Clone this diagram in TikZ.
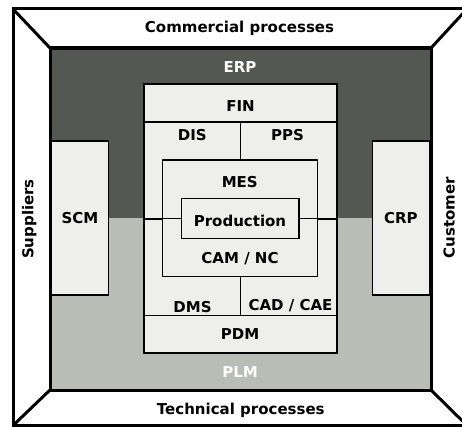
\documentclass[tikz,border=0pt]{standalone}
\usepackage{fontspec}
\setmainfont{DejaVu Sans}
\usetikzlibrary{positioning}
\definecolor{erpgrey}{HTML}{555753}
\definecolor{plmgrey}{HTML}{BABDB6}
\definecolor{boxfill}{HTML}{EEEEEC}
\tikzset{%
    outerframe/.style={line width=3pt, color=black},
    module/.style={draw=black, fill=boxfill, line width=1.4pt, rectangle, inner sep=0pt},
    divider/.style={line width=1.2pt, color=black},
    txt/.style={anchor=base, inner sep=0pt, text=black},
    %white txt/.style={txt, text=white}
}

\begin{document}
\begin{tikzpicture}[x=1pt, y=-1pt, line join=miter, font=\fontsize{15}{18}\selectfont\bfseries]

	% canvas
	\useasboundingbox (0,0) rectangle (462,428);
	\fill[white] (0,0) rectangle (462,428);

	% corners
	\coordinate (otl) at (13,9);
	\coordinate (otr) at (467,9);
	\coordinate (obl) at (13,425.5);
	\coordinate (obr) at (467,425.5);
	\coordinate (itl) at (50,48);
	\coordinate (itr) at (431,48);
	\coordinate (ibl) at (50,390);
	\coordinate (ibr) at (431,390);

	% ERP and PLM areas
	\fill[erpgrey] (itl) rectangle (431,218);
	\fill[plmgrey] (50,218) rectangle (ibr);

	% outer frame
	\draw[outerframe] (otl) rectangle (obr);
	\draw[outerframe] (otl) -- (itl);
	\draw[outerframe] (otr) -- (itr);
	\draw[outerframe] (obl) -- (ibl);
	\draw[outerframe] (obr) -- (ibr);
	\draw[outerframe] (itl) rectangle (ibr);

	% side modules
	\node[module, minimum width=57, minimum height=154] (scm) at (80,218) {SCM};
	\node[module, minimum width=57, minimum height=154] (crp) at (400.8,218) {CRP};

	% core modules
	\node[module, minimum width=193, minimum height=269] (core) at (240.5,218.5) {};
	\node[module, minimum width=155, minimum height=116.7] (mes) at (240.2,218.3) {};
	\node[module, minimum width=117.3, minimum height=40.4] (prod) at (240.3,218.5) {};

	% dividers
	\coordinate (finwest) at ([yshift=-38.7pt]core.north west);
	\coordinate (fineast) at ([yshift=-38.7pt]core.north east);
	\coordinate (pdmwest) at ([yshift=38pt]core.south west);
	\coordinate (pdmeast) at ([yshift=38pt]core.south east);
	\draw[divider] (finwest) -- (fineast);
	\draw[divider] (pdmwest) -- (pdmeast);
	\draw[divider] (mes.north) -- (mes.north |- finwest);
	\draw[divider] (mes.south) -- (mes.south |- pdmwest);

	% links to production
	\draw[line width=2pt] (core.west |- prod) -- (mes.west |- prod);
	\draw[divider] (mes.west |- prod) -- (prod.west);
	\draw[line width=2pt] (core.east |- prod) -- (mes.east |- prod);
	\draw[divider] (mes.east |- prod) -- (prod.east);

	% labels
	\node[txt] (commercial) at (239.5,33) {Commercial processes};
	\node[txt, text=white] (erp) at (240,72.7) {ERP};
	\node[txt] (fin) at (240.5,111) {FIN};
	\node[txt] (dis) at (192.3,140) {DIS};
	\node[txt] (pps) at (287.5,140) {PPS};
	\node[txt] (mestxt) at (239.8,187.3) {MES};
	\node[txt] (prodtxt) at (240,226) {Production};
	\node[txt] (camnc) at (240,263.3) {CAM / NC};
	\node[txt] (dms) at (192.5,312.5) {DMS};
	\node[txt] (cadcae) at (290.5,310) {CAD / CAE};
	\node[txt] (pdm) at (240,339.3) {PDM};
	\node[txt, text=white] (plm) at (240,377.3) {PLM};
	\node[txt] (technical) at (240.8,414) {Technical processes};
	\node[rotate=90, inner sep=0pt] (suppliers) at (29.2,219) {Suppliers};
	\node[rotate=90, inner sep=0pt] (customer) at (449.2,217.5) {Customer};

\end{tikzpicture}
\end{document}
